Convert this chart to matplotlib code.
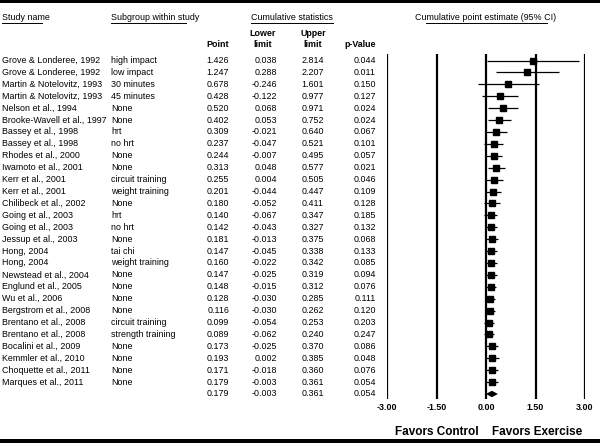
import numpy as np
import matplotlib
matplotlib.use('Agg')
import matplotlib.pyplot as plt
from matplotlib.patches import Polygon

studies = ['Grove & Londeree, 1992', 'Grove & Londeree, 1992',
           'Martin & Notelovitz, 1993', 'Martin & Notelovitz, 1993',
           'Nelson et al., 1994', 'Brooke-Wavell et al., 1997',
           'Bassey et al., 1998', 'Bassey et al., 1998', 'Rhodes et al., 2000',
           'Iwamoto et al., 2001', 'Kerr et al., 2001', 'Kerr et al., 2001',
           'Chilibeck et al., 2002', 'Going et al., 2003', 'Going et al., 2003',
           'Jessup et al., 2003', 'Hong, 2004', 'Hong, 2004',
           'Newstead et al., 2004', 'Englund et al., 2005', 'Wu et al., 2006',
           'Bergstrom et al., 2008', 'Brentano et al., 2008',
           'Brentano et al., 2008', 'Bocalini et al., 2009',
           'Kemmler et al., 2010', 'Choquette et al., 2011',
           'Marques et al., 2011']
subgroups = ['high impact', 'low impact', '30 minutes', '45 minutes', 'None',
             'None', 'hrt', 'no hrt', 'None', 'None', 'circuit training',
             'weight training', 'None', 'hrt', 'no hrt', 'None', 'tai chi',
             'weight training', 'None', 'None', 'None', 'None',
             'circuit training', 'strength training', 'None', 'None', 'None',
             'None']
point = np.array([1.426, 1.247, 0.678, 0.428, 0.520, 0.402, 0.309, 0.237,
                  0.244, 0.313, 0.255, 0.201, 0.180, 0.140, 0.142, 0.181,
                  0.147, 0.160, 0.147, 0.148, 0.128, 0.116, 0.099, 0.089,
                  0.173, 0.193, 0.171, 0.179])
lower = np.array([0.038, 0.288, -0.246, -0.122, 0.068, 0.053, -0.021, -0.047,
                  -0.007, 0.048, 0.004, -0.044, -0.052, -0.067, -0.043, -0.013,
                  -0.045, -0.022, -0.025, -0.015, -0.030, -0.030, -0.054,
                  -0.062, -0.025, 0.002, -0.018, -0.003])
upper = np.array([2.814, 2.207, 1.601, 0.977, 0.971, 0.752, 0.640, 0.521,
                  0.495, 0.577, 0.505, 0.447, 0.411, 0.347, 0.327, 0.375,
                  0.338, 0.342, 0.319, 0.312, 0.285, 0.262, 0.253, 0.240,
                  0.370, 0.385, 0.360, 0.361])
pvals = np.array([0.044, 0.011, 0.150, 0.127, 0.024, 0.024, 0.067, 0.101,
                  0.057, 0.021, 0.046, 0.109, 0.128, 0.185, 0.132, 0.068,
                  0.133, 0.085, 0.094, 0.076, 0.111, 0.120, 0.203, 0.247,
                  0.086, 0.048, 0.076, 0.054])
summ_point, summ_lower, summ_upper, summ_p = 0.179, -0.003, 0.361, 0.054
ticks = [-3.0, -1.5, 0.0, 1.5, 3.0]

W, H = 600, 443
Y0, DY = 60.5, 11.91
FS = 6.4


def main():
    plt.rcParams['font.family'] = ['Liberation Sans', 'DejaVu Sans']
    fig = plt.figure(figsize=(W / 100, H / 100), dpi=100)

    # table axes, pixel coordinates
    tab = fig.add_axes([0, 0, 1, 1])
    tab.set_xlim(0, W)
    tab.set_ylim(H, 0)
    tab.axis('off')

    n = len(studies)
    y = Y0 + DY * np.arange(n)
    ys = Y0 + DY * n

    # frame bars
    tab.axhspan(0, 3, color='black', lw=0)
    tab.axhspan(439, 443, color='black', lw=0)

    # headers
    tab.text(2, 17, 'Study name', fontsize=FS, va='center')
    tab.plot([2, 42], [23, 23], color='black', lw=0.7)
    tab.text(111, 17, 'Subgroup within study', fontsize=FS, va='center')
    tab.plot([111, 186], [23, 23], color='black', lw=0.7)
    tab.text(292, 17, 'Cumulative statistics', fontsize=FS, va='center',
             ha='center')
    tab.plot([251, 333], [23, 23], color='black', lw=0.7)
    tab.text(486, 17, 'Cumulative point estimate (95% CI)', fontsize=FS,
             va='center', ha='center')
    tab.plot([426, 547], [23, 23], color='black', lw=0.7)

    tab.text(229, 44, 'Point', fontsize=FS, weight='bold', ha='right',
             va='center')
    tab.text(263, 39, 'Lower\nlimit', fontsize=FS, weight='bold', ha='center',
             va='center', linespacing=1.15)
    tab.text(313, 39, 'Upper\nlimit', fontsize=FS, weight='bold', ha='center',
             va='center', linespacing=1.15)
    tab.text(376, 44, 'p-Value', fontsize=FS, weight='bold', ha='right',
             va='center')

    # rows
    for i in range(n):
        tab.text(2, y[i], studies[i], fontsize=FS, va='center')
        tab.text(111, y[i], subgroups[i], fontsize=FS, va='center')
        tab.text(229, y[i], f'{point[i]:.3f}', fontsize=FS, va='center',
                 ha='right')
        tab.text(277, y[i], f'{lower[i]:.3f}', fontsize=FS, va='center',
                 ha='right')
        tab.text(324, y[i], f'{upper[i]:.3f}', fontsize=FS, va='center',
                 ha='right')
        tab.text(376, y[i], f'{pvals[i]:.3f}', fontsize=FS, va='center',
                 ha='right')
    for x, v in zip([229, 277, 324, 376],
                    [summ_point, summ_lower, summ_upper, summ_p]):
        tab.text(x, ys, f'{v:.3f}', fontsize=FS, va='center', ha='right')

    # forest plot axes
    fa = fig.add_axes([387 / W, 0, 198 / W, 1], sharey=tab)
    fa.set_xlim(-3, 3)
    fa.axis('off')
    fa.vlines(ticks, 54, 399, color='black', lw=1.6)
    fa.hlines(y, lower, upper, color='black', lw=0.9)
    fa.plot(point, y, 's', color='black', ms=3.8)
    dia = Polygon([[summ_lower, ys], [summ_point, ys - 3.2],
                   [summ_upper, ys], [summ_point, ys + 3.2]],
                  closed=True, color='black', lw=0)
    fa.add_patch(dia)
    for t in ticks:
        fa.text(t, 407, f'{t:.2f}', fontsize=FS, weight='bold', ha='center',
                va='center', clip_on=False)
    fa.text(-1.5, 432, 'Favors Control', fontsize=8.5, weight='bold',
            ha='center', va='center', clip_on=False)
    fa.text(1.55, 432, 'Favors Exercise', fontsize=8.5, weight='bold',
            ha='center', va='center', clip_on=False)

    fig.savefig('out.png', dpi=100)


if __name__ == "__main__":
    main()
